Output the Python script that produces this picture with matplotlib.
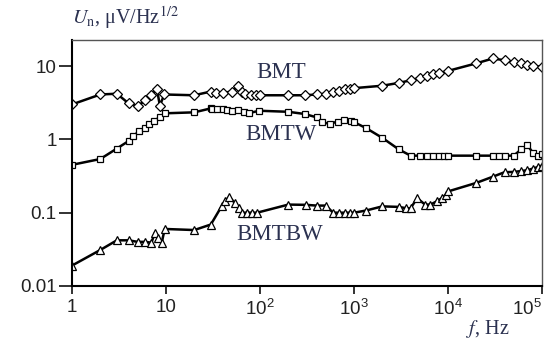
import matplotlib
matplotlib.use("Agg")
import matplotlib.pyplot as plt
import numpy as np

# ---- data ----
bmt_f = [1, 2, 3, 4, 5, 6, 7, 8, 8.6, 9.6, 20, 30, 34, 40, 50, 58, 65, 70, 80, 90, 100,
         200, 300, 400, 500, 600, 700, 800, 900, 1000,
         2000, 3000, 4000, 5000, 6000, 7000, 8000, 10000,
         20000, 30000, 40000, 50000, 60000, 70000, 80000, 100000]
bmt_v = [3.0, 4.1, 4.2, 3.1, 2.85, 3.4, 4.0, 4.9, 2.9, 4.1, 4.0, 4.5, 4.3, 4.3, 4.5, 5.3, 4.4, 4.1, 4.0, 4.0, 4.0,
         4.0, 4.0, 4.1, 4.2, 4.4, 4.6, 4.8, 4.9, 5.0,
         5.4, 5.9, 6.4, 6.9, 7.4, 7.8, 8.0, 8.6,
         10.9, 12.7, 12.0, 11.4, 10.9, 10.4, 10.0, 9.8]

bmtw_f = [1, 2, 3, 4, 4.5, 5.2, 6, 6.6, 7.5, 8.6, 9.8, 20, 30, 31, 35, 40, 45, 50, 58, 68, 77, 98,
          200, 300, 400, 460, 550, 670, 790, 930, 1000, 1340,
          2000, 3000, 4000, 5000, 6000, 7000, 8000, 9000, 10000,
          20000, 30000, 35000, 40000, 50000, 60000, 70000, 80000, 90000, 100000]
bmtw_v = [0.45, 0.54, 0.75, 0.95, 1.12, 1.29, 1.43, 1.63, 1.81, 2.0, 2.27, 2.34, 2.65, 2.62, 2.6, 2.58, 2.55, 2.46, 2.54, 2.38, 2.29, 2.46,
          2.38, 2.22, 2.0, 1.72, 1.63, 1.75, 1.85, 1.81, 1.72, 1.43,
          1.05, 0.73, 0.6, 0.6, 0.6, 0.6, 0.6, 0.6, 0.6,
          0.6, 0.6, 0.6, 0.6, 0.6, 0.73, 0.83, 0.66, 0.6, 0.63]

bmtbw_f = [1, 2, 3, 4, 5, 6, 7, 7.6, 8.2, 9, 9.7, 20, 30, 39, 42, 47, 54, 60, 65, 73, 83, 93,
           200, 310, 400, 500, 600, 700, 800, 900, 1000, 1340,
           2000, 3000, 3600, 4000, 4700, 5700, 6500, 7600, 8600, 9600, 10000,
           20000, 30000, 40000, 50000, 60000, 70000, 80000, 90000, 100000]
bmtbw_v = [0.019, 0.031, 0.042, 0.042, 0.040, 0.040, 0.039, 0.053, 0.045, 0.039, 0.060, 0.058, 0.069, 0.122, 0.143, 0.164, 0.136, 0.116, 0.10, 0.10, 0.10, 0.10,
           0.129, 0.128, 0.125, 0.125, 0.10, 0.10, 0.10, 0.10, 0.10, 0.107,
           0.122, 0.12, 0.115, 0.115, 0.158, 0.129, 0.129, 0.143, 0.158, 0.177, 0.195,
           0.255, 0.31, 0.357, 0.36, 0.37, 0.38, 0.40, 0.42, 0.44]

xticks = [1, 10, 100, 1000, 10000, 100000]
xtick_labels = ['1', '10', r'$10^2$', r'$10^3$', r'$10^4$', r'$10^5$']
yticks = [0.01, 0.1, 1, 10]
ytick_labels = ['0.01', '0.1', '1', '10']

series_labels = ['BMT', 'BMTW', 'BMTBW']

# ---- plot ----
plt.rcParams['mathtext.fontset'] = 'custom'
plt.rcParams['mathtext.rm'] = 'Liberation Sans'
plt.rcParams['mathtext.it'] = 'Liberation Sans:italic'

W, H = 544, 346
fig = plt.figure(figsize=(W / 100, H / 100), dpi=100)
ax = fig.add_axes([72 / W, 60 / H, 470 / W, 246 / H])

kw = dict(color='black', lw=1.8, mfc='white', mec='black', mew=0.9)
ax.plot(bmt_f, bmt_v, marker='D', ms=5, **kw)
ax.plot(bmtw_f, bmtw_v, marker='s', ms=5, **kw)
ax.plot(bmtbw_f, bmtbw_v, marker='^', ms=5.8, **kw)

ax.set_xscale('log')
ax.set_yscale('log')
ax.set_xlim(1, 1e5)
ax.set_ylim(0.01, 22.7)
ax.minorticks_off()
ax.set_xticks(xticks)
ax.set_xticklabels(xtick_labels, fontsize=13.5, family='Liberation Sans')
ax.set_yticks(yticks)
ax.set_yticklabels(ytick_labels, fontsize=13.5, family='Liberation Sans')
ax.tick_params(axis='y', direction='out', length=9.5, width=1.3, pad=1.5, colors='#222222')
ax.tick_params(axis='x', direction='out', length=6, width=1.3, pad=3, colors='#222222')
ax.get_xticklabels()[-1].set_horizontalalignment('right')
ax.get_xticklabels()[-1].set_x(1e5)

for s in ['left', 'bottom']:
    ax.spines[s].set_linewidth(1.5)
for s in ['top', 'right']:
    ax.spines[s].set_linewidth(1.0)
    ax.spines[s].set_color('#555555')

lab_col = '#2b3150'
label_pos = [(281, 72), (281, 134), (280, 234)]
for lab, (px, py) in zip(series_labels, label_pos):
    fig.text(px / W, 1 - py / H, lab, fontsize=16.5, family='Liberation Serif',
             color=lab_col, ha='center', va='center')

fig.text(72 / W, 1 - 18 / H, r'$U_{\mathrm{n}}$, μV/Hz$^{1/2}$', fontsize=14.5,
         family='Liberation Serif', color=lab_col, ha='left', va='center', math_fontfamily='stix')
fig.text(488 / W, 1 - 329 / H, r'$f$, Hz', fontsize=14.5,
         family='Liberation Serif', color=lab_col, ha='center', va='center', math_fontfamily='stix')

fig.savefig('out.png', dpi=100)
